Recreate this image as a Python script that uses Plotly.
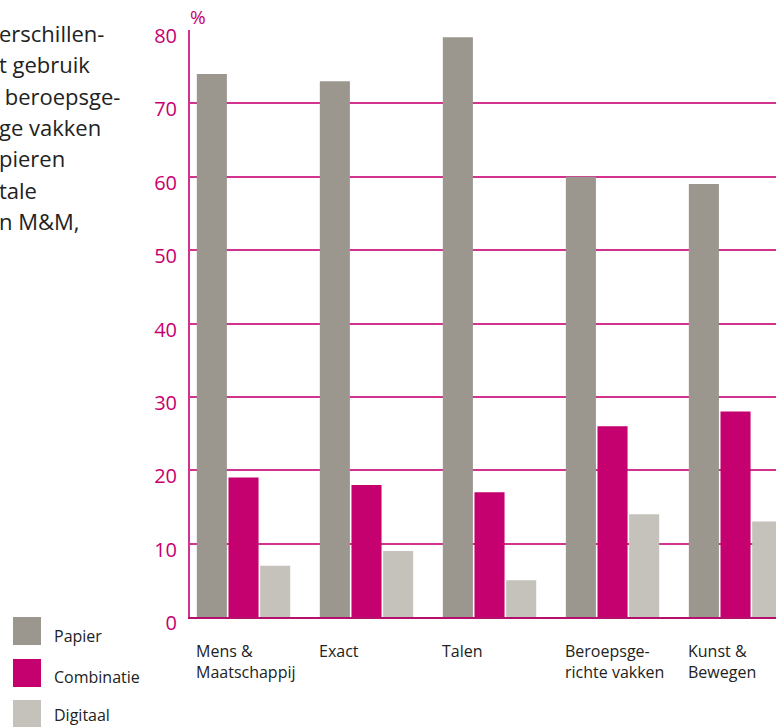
import plotly.graph_objects as go

# ---- data ----
categories = ["Mens & Maatschappij", "Exact", "Talen", "Beroepsgerichte vakken", "Kunst & Bewegen"]
category_labels = ["Mens &<br>Maatschappij", "Exact", "Talen", "Beroepsge-<br>richte vakken", "Kunst &<br>Bewegen"]
papier = [74, 73, 79, 60, 59]
combinatie = [19, 18, 17, 26, 28]
digitaal = [7, 9, 5, 14, 13]
series_names = ["Papier", "Combinatie", "Digitaal"]
y_ticks = [0, 10, 20, 30, 40, 50, 60, 70, 80]
paragraph_lines = ["erschillen-", "t gebruik", " beroepsge-", "ge vakken", "pieren", "tale", "n M&M,"]

# ---- style ----
W, H = 776, 727
ML, MR, MT, MB = 190, 0, 30, 110
PW, PH = W - ML - MR, H - MT - MB
MAG = "#c8006e"
GRID = "#d2338f"
C_PAP, C_COM, C_DIG = "#9b978f", "#c5006f", "#c5c2bc"
FONT = "Open Sans"


def fx(px):
    return (px - ML) / PW


def fy(py):
    return (H - MB - py) / PH


fig = go.Figure()
for name, vals, col in zip(series_names, [papier, combinatie, digitaal], [C_PAP, C_COM, C_DIG]):
    fig.add_trace(go.Bar(x=categories, y=vals, name=name, marker=dict(color=col, line=dict(width=0)),
                         showlegend=False))

fig.update_layout(
    width=W, height=H,
    margin=dict(l=ML, r=MR, t=MT, b=MB),
    paper_bgcolor="white", plot_bgcolor="white",
    barmode="group", bargap=0.228, bargroupgap=0.05,
    font=dict(family=FONT, color="#222"),
)
fig.update_xaxes(type="category", range=[-0.435, 4.329], showticklabels=False, showgrid=False,
                 zeroline=False, showline=True, linecolor="#b5106c", linewidth=2, ticks="")
fig.update_yaxes(range=[0, 80], tickvals=y_ticks, showgrid=True, gridcolor=GRID, gridwidth=2,
                 zeroline=False, showline=True, linecolor=GRID, linewidth=2, ticks="",
                 tickfont=dict(family=FONT, size=20, color=MAG), ticklabelstandoff=7,
                 ticklabelshift=6)

ann = []
# % unit label
ann.append(dict(text="%", xref="paper", yref="paper", x=fx(188), y=fy(17), xanchor="left", yanchor="middle",
                showarrow=False, font=dict(family=FONT, size=19, color=MAG)))
# category labels (left aligned under each group)
for i, lab in enumerate(category_labels):
    ann.append(dict(text=lab, xref="x", yref="paper", x=i - 0.386, y=fy(638), xanchor="left", yanchor="top",
                    align="left", xshift=-2, showarrow=False, font=dict(family=FONT, size=16, color="#222")))
# paragraph fragment at left
for k, line in enumerate(paragraph_lines):
    ann.append(dict(text=line, xref="paper", yref="paper", x=fx(-3), y=fy(33 + 31.3 * k), xanchor="left",
                    yanchor="middle", showarrow=False, font=dict(family=FONT, size=22, color="#222")))

# manual legend
shapes = []
leg_sq = [(617, 645), (659, 687), (700, 728)]
leg_txt_y = [636, 677, 715]
for name, col, (t, b), ty in zip(series_names, [C_PAP, C_COM, C_DIG], leg_sq, leg_txt_y):
    shapes.append(dict(type="rect", xref="paper", yref="paper", x0=fx(13), x1=fx(41), y0=fy(b), y1=fy(t),
                       fillcolor=col, line=dict(width=0)))
    ann.append(dict(text=name, xref="paper", yref="paper", x=fx(52), y=fy(ty), xanchor="left", yanchor="middle",
                    showarrow=False, font=dict(family=FONT, size=16, color="#222")))

fig.update_layout(annotations=ann, shapes=shapes)
fig.write_html("out.html", config={"displayModeBar": False},
               post_script="document.body.style.margin='0';document.body.style.padding='0';")
